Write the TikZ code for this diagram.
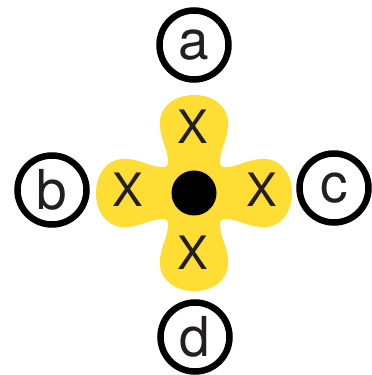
\documentclass[tikz,border=0pt]{standalone}
\usepackage{fontspec}
\setmainfont{TeX Gyre Heros}
\usetikzlibrary{positioning}
\definecolor{blobyellow}{RGB}{254,221,52}
\definecolor{inkgray}{RGB}{35,31,32}

\begin{document}
\begin{tikzpicture}[x=1pt,y=1pt,
  port/.style={circle,draw=black,line width=6.5pt,minimum size=69pt,inner sep=0pt,
    text=inkgray,font=\fontsize{55}{55}\selectfont},
  site/.style={text=inkgray,inner sep=0pt,font=\fontsize{46}{46}\selectfont}]
\useasboundingbox (0,0) rectangle (372,375);
% four-lobed blob around the centre
\begin{scope}[shift={(194,182)}]
\fill[blobyellow] (-27.125,27.125)
  \foreach \r in {0,-90,-180,-270} {
    .. controls ([rotate=\r]-26.25,28) and ([rotate=\r]-26,29.5) .. ([rotate=\r]-26,32)
    .. controls ([rotate=\r]-26,45) and ([rotate=\r]-35,55) .. ([rotate=\r]-34,72)
    .. controls ([rotate=\r]-33,88) and ([rotate=\r]-18,98) .. ([rotate=\r]0,98)
    .. controls ([rotate=\r]18,98) and ([rotate=\r]33,88) .. ([rotate=\r]34,72)
    .. controls ([rotate=\r]35,55) and ([rotate=\r]26,45) .. ([rotate=\r]26,32)
    .. controls ([rotate=\r]26,29.5) and ([rotate=\r]26.25,28) .. ([rotate=\r]27.125,27.125)
  } -- cycle;
\fill[black] (0,0) circle (22.5);
\node[site] (xtop) at (-1,66) {X};
\node[site] (xleft) at (-66,3) {X};
\node[site] (xright) at (68,3) {X};
\node[site] (xbottom) at (-1,-60) {X};
\end{scope}
% labelled rings
\node[port] (a) at (194,330) {a};
\node[port] (b) at (52,185) {b};
\node[port] (c) at (334,187) {c};
\node[port] (d) at (195,38) {d};
\end{tikzpicture}
\end{document}
